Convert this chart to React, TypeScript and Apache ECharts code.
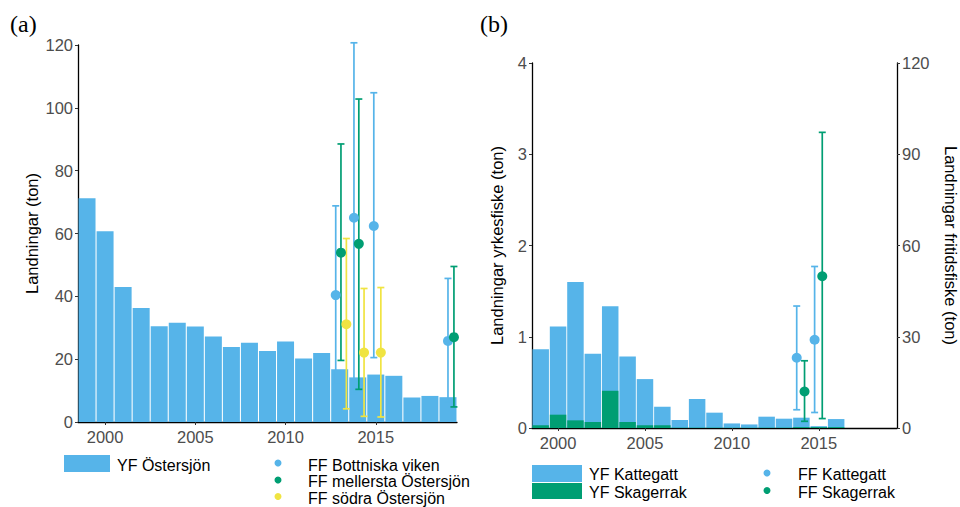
import React, { useEffect, useRef } from "react";
import * as echarts from "echarts";

// ---------- Panel (a) data ----------
const yearsA = [1999, 2000, 2001, 2002, 2003, 2004, 2005, 2006, 2007, 2008, 2009, 2010, 2011, 2012, 2013, 2014, 2015, 2016, 2017, 2018, 2019];
const yfOstersjon = [71.2, 60.7, 43.0, 36.3, 30.5, 31.6, 30.4, 27.2, 23.9, 25.2, 22.6, 25.6, 20.2, 22.0, 16.8, 14.2, 15.1, 14.7, 7.8, 8.3, 7.9];

// FF series (a): x position (year, dodged), estimate, lower, upper
const ffBottniskaX = [2012.78, 2013.79, 2014.89, 2019.0];
const ffBottniskaEst = [40.4, 65.0, 62.4, 25.8];
const ffBottniskaLow = [12.0, 9.0, 20.5, 6.4];
const ffBottniskaHigh = [68.8, 120.7, 104.8, 45.7];

const ffMellerstaX = [2013.07, 2014.06, 2019.33];
const ffMellerstaEst = [53.9, 56.7, 27.0];
const ffMellerstaLow = [19.6, 10.4, 4.8];
const ffMellerstaHigh = [88.5, 102.8, 49.5];

const ffSodraX = [2013.37, 2014.35, 2015.28];
const ffSodraEst = [31.1, 22.1, 22.1];
const ffSodraLow = [4.2, 1.8, 1.6];
const ffSodraHigh = [58.4, 42.5, 42.8];

// ---------- Panel (b) data ----------
const yearsB = [1999, 2000, 2001, 2002, 2003, 2004, 2005, 2006, 2007, 2008, 2009, 2010, 2011, 2012, 2013, 2014, 2015, 2016];
const yfKattegatt = [0.834, 0.966, 1.517, 0.747, 0.927, 0.718, 0.506, 0.203, 0.084, 0.314, 0.164, 0.047, 0.036, 0.12, 0.098, 0.103, 0.01, 0.088];
const yfSkagerrak = [0.03, 0.146, 0.084, 0.066, 0.408, 0.066, 0.03, 0.03, 0.004, 0.004, 0.004, 0.003, 0.003, 0.004, 0.004, 0.01, 0.01, 0.01];

const ffKattegattX = [2013.73, 2014.76];
const ffKattegattEst = [23.1, 29.0];
const ffKattegattLow = [6.0, 5.1];
const ffKattegattHigh = [40.1, 53.1];

const ffSkagerrakX = [2014.18, 2015.2];
const ffSkagerrakEst = [12.0, 49.9];
const ffSkagerrakLow = [2.2, 3.1];
const ffSkagerrakHigh = [22.1, 97.2];

const xTicks = [2000, 2005, 2010, 2015];

const BLUE = "#56B4E9";
const GREEN = "#009E73";
const YELLOW = "#F0E442";
const FONT = "Liberation Sans, Arial, sans-serif";
const TICK_COLOR = "#4D4D4D";
const LEG_FONT = `16px ${FONT}`;

function errorSeries(name: string, xs: number[], lows: number[], highs: number[], color: string, xAxisIndex: number, yAxisIndex: number) {
  return {
    name: name + "-err",
    type: "custom",
    xAxisIndex,
    yAxisIndex,
    z: 5,
    silent: true,
    data: xs.map((x, i) => [x, lows[i], highs[i]]),
    renderItem: (params: any, api: any) => {
      const x = api.value(0);
      const lo = api.coord([x, api.value(1)]);
      const hi = api.coord([x, api.value(2)]);
      const w = 3.5;
      const style = { stroke: color, lineWidth: 1.7, fill: null };
      return {
        type: "group",
        children: [
          { type: "line", shape: { x1: lo[0], y1: lo[1], x2: hi[0], y2: hi[1] }, style },
          { type: "line", shape: { x1: hi[0] - w, y1: hi[1], x2: hi[0] + w, y2: hi[1] }, style },
          { type: "line", shape: { x1: lo[0] - w, y1: lo[1], x2: lo[0] + w, y2: lo[1] }, style },
        ],
      };
    },
  };
}

function pointSeries(name: string, xs: number[], ys: number[], color: string, xAxisIndex: number, yAxisIndex: number) {
  return {
    name,
    type: "scatter",
    xAxisIndex,
    yAxisIndex,
    z: 6,
    symbol: "circle",
    symbolSize: 10,
    itemStyle: { color, opacity: 1 },
    data: xs.map((x, i) => [x, ys[i]]),
  };
}

function xAxisDef(gridIndex: number) {
  return {
    type: "value",
    gridIndex,
    min: 1998.5,
    max: 2019.5,
    splitLine: { show: false },
    axisLine: { show: true, onZero: false, lineStyle: { color: "#000", width: 1.3 } },
    axisTick: { show: true, customValues: xTicks, length: 3, lineStyle: { color: "#333" } },
    axisLabel: { customValues: xTicks, color: TICK_COLOR, fontSize: 16.5, fontFamily: FONT, margin: 6, formatter: (v: number) => String(v) },
  };
}

function yAxisDef(gridIndex: number, max: number, interval: number, name: string, position: string, nameGap: number, nameRotate: number) {
  return {
    type: "value",
    gridIndex,
    min: 0,
    max,
    interval,
    position,
    name,
    nameLocation: "middle",
    nameGap,
    nameRotate,
    nameTextStyle: { color: "#000", fontSize: 16.5, fontFamily: FONT },
    splitLine: { show: false },
    axisLine: { show: true, lineStyle: { color: "#000", width: 1.3 } },
    axisTick: { show: true, length: 3, lineStyle: { color: "#333" } },
    axisLabel: { color: TICK_COLOR, fontSize: 16.5, fontFamily: FONT, margin: 5 },
  };
}

export default function App() {
  const ref = useRef<HTMLDivElement>(null);

  useEffect(() => {
    if (!ref.current) return;
    const chart = echarts.init(ref.current, null, { renderer: "svg" });

    const totalsB = yfKattegatt.map((v, i) => v + yfSkagerrak[i]);

    const option: any = {
      animation: false,
      backgroundColor: "#fff",
      textStyle: { fontFamily: FONT },
      grid: [
        { left: 78, top: 45, width: 379, height: 377 },
        { left: 532, top: 63, width: 366, height: 365 },
      ],
      xAxis: [xAxisDef(0), xAxisDef(1)],
      yAxis: [
        yAxisDef(0, 120, 20, "Landningar (ton)", "left", 38, 90),
        yAxisDef(1, 4, 1, "Landningar yrkesfiske (ton)", "left", 27, 90),
        yAxisDef(1, 120, 30, "Landningar fritidsfiske (ton)", "right", 45, -90),
      ],
      series: [
        {
          name: "YF Östersjön",
          type: "bar",
          xAxisIndex: 0,
          yAxisIndex: 0,
          barWidth: 17,
          itemStyle: { color: BLUE },
          data: yearsA.map((y, i) => [y, yfOstersjon[i]]),
        },
        errorSeries("FF Bottniska viken", ffBottniskaX, ffBottniskaLow, ffBottniskaHigh, BLUE, 0, 0),
        errorSeries("FF mellersta Östersjön", ffMellerstaX, ffMellerstaLow, ffMellerstaHigh, GREEN, 0, 0),
        errorSeries("FF södra Östersjön", ffSodraX, ffSodraLow, ffSodraHigh, YELLOW, 0, 0),
        pointSeries("FF Bottniska viken", ffBottniskaX, ffBottniskaEst, BLUE, 0, 0),
        pointSeries("FF mellersta Östersjön", ffMellerstaX, ffMellerstaEst, GREEN, 0, 0),
        pointSeries("FF södra Östersjön", ffSodraX, ffSodraEst, YELLOW, 0, 0),
        {
          name: "YF Kattegatt",
          type: "bar",
          xAxisIndex: 1,
          yAxisIndex: 1,
          barWidth: 16.5,
          barGap: "-100%",
          itemStyle: { color: BLUE },
          data: yearsB.map((y, i) => [y, totalsB[i]]),
        },
        {
          name: "YF Skagerrak",
          type: "bar",
          xAxisIndex: 1,
          yAxisIndex: 1,
          barWidth: 16.5,
          barGap: "-100%",
          itemStyle: { color: GREEN },
          data: yearsB.map((y, i) => [y, yfSkagerrak[i]]),
        },
        errorSeries("FF Kattegatt", ffKattegattX, ffKattegattLow, ffKattegattHigh, BLUE, 1, 2),
        errorSeries("FF Skagerrak", ffSkagerrakX, ffSkagerrakLow, ffSkagerrakHigh, GREEN, 1, 2),
        pointSeries("FF Kattegatt", ffKattegattX, ffKattegattEst, BLUE, 1, 2),
        pointSeries("FF Skagerrak", ffSkagerrakX, ffSkagerrakEst, GREEN, 1, 2),
      ],
      graphic: [
        { type: "text", left: 10, top: 12, style: { text: "(a)", font: "24px 'Liberation Serif', serif", fill: "#000" } },
        { type: "text", left: 480, top: 12, style: { text: "(b)", font: "24px 'Liberation Serif', serif", fill: "#000" } },
        // legend (a)
        { type: "rect", shape: { x: 64, y: 455, width: 46, height: 17 }, style: { fill: BLUE } },
        { type: "text", x: 117, y: 465, style: { text: "YF Östersjön", font: LEG_FONT, fill: "#000", verticalAlign: "middle" } },
        { type: "circle", shape: { cx: 278, cy: 463, r: 3.5 }, style: { fill: BLUE } },
        { type: "text", x: 308, y: 465, style: { text: "FF Bottniska viken", font: LEG_FONT, fill: "#000", verticalAlign: "middle" } },
        { type: "circle", shape: { cx: 278, cy: 480, r: 3.5 }, style: { fill: GREEN } },
        { type: "text", x: 308, y: 481.5, style: { text: "FF mellersta Östersjön", font: LEG_FONT, fill: "#000", verticalAlign: "middle" } },
        { type: "circle", shape: { cx: 278, cy: 496.5, r: 3.5 }, style: { fill: YELLOW } },
        { type: "text", x: 308, y: 498, style: { text: "FF södra Östersjön", font: LEG_FONT, fill: "#000", verticalAlign: "middle" } },
        // legend (b)
        { type: "rect", shape: { x: 532, y: 465, width: 50, height: 17 }, style: { fill: BLUE } },
        { type: "rect", shape: { x: 532, y: 483, width: 50, height: 16 }, style: { fill: GREEN } },
        { type: "text", x: 589, y: 474, style: { text: "YF Kattegatt", font: LEG_FONT, fill: "#000", verticalAlign: "middle" } },
        { type: "text", x: 589, y: 492, style: { text: "YF Skagerrak", font: LEG_FONT, fill: "#000", verticalAlign: "middle" } },
        { type: "circle", shape: { cx: 767, cy: 473, r: 3.5 }, style: { fill: BLUE } },
        { type: "text", x: 798, y: 474, style: { text: "FF Kattegatt", font: LEG_FONT, fill: "#000", verticalAlign: "middle" } },
        { type: "circle", shape: { cx: 767, cy: 490.5, r: 3.5 }, style: { fill: GREEN } },
        { type: "text", x: 798, y: 492, style: { text: "FF Skagerrak", font: LEG_FONT, fill: "#000", verticalAlign: "middle" } },
      ],
    };

    chart.setOption(option);
    return () => chart.dispose();
  }, []);

  return <div ref={ref} style={{ position: "fixed", left: 0, top: 0, width: 960, height: 507 }} />;
}
